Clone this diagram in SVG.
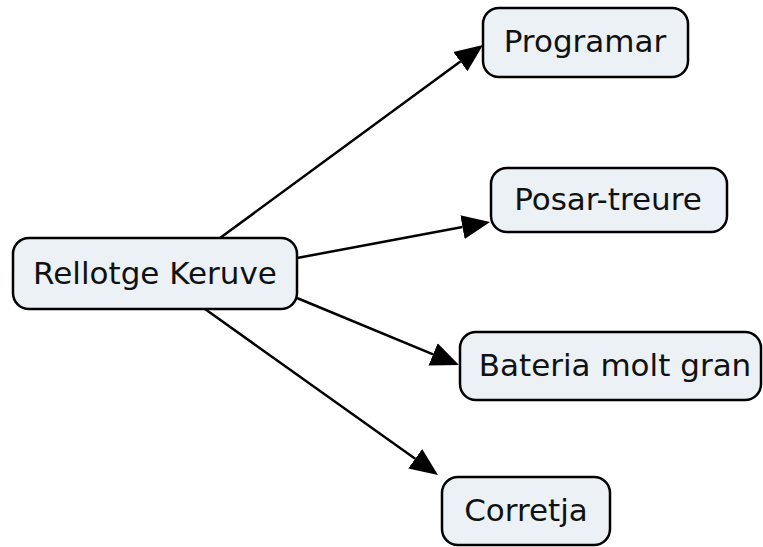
<svg xmlns="http://www.w3.org/2000/svg" width="763" height="547" viewBox="0 0 763 547">
<style>
.box{fill:#ebf1f4;stroke:#000;stroke-width:2.5}
.lbl{font-family:"DejaVu Sans",Verdana,sans-serif;font-size:31px;fill:#111;text-anchor:middle}
.edge{stroke:#000;stroke-width:2.5;fill:none;marker-end:url(#arr)}
</style>
<defs>
<marker id="arr" markerUnits="userSpaceOnUse" markerWidth="29" markerHeight="26" viewBox="0 -13 29 26" refX="0" refY="0" orient="auto">
<path d="M0,-12 L28,0 L0,12 z" fill="#000"/>
</marker>
</defs>
<rect width="763" height="547" fill="#fff"/>
<g id="connectors">
<line class="edge" x1="220" y1="238" x2="460.4" y2="61.6"/>
<line class="edge" x1="297" y1="258" x2="462.5" y2="227.1"/>
<line class="edge" x1="297" y1="298" x2="433.1" y2="354.3"/>
<line class="edge" x1="205" y1="309" x2="415.2" y2="458.8"/>
</g>
<g id="node-rellotge">
<rect class="box" x="13" y="238" width="284" height="71" rx="16"/>
<text class="lbl" x="155" y="284">Rellotge Keruve</text>
</g>
<g id="node-programar">
<rect class="box" x="483" y="8" width="205" height="69" rx="16"/>
<text class="lbl" x="585" y="52">Programar</text>
</g>
<g id="node-posar">
<rect class="box" x="491" y="168" width="236" height="64" rx="16"/>
<text class="lbl" x="608" y="210">Posar-treure</text>
</g>
<g id="node-bateria">
<rect class="box" x="460" y="332" width="301" height="68" rx="16"/>
<text class="lbl" x="615" y="376">Bateria molt gran</text>
</g>
<g id="node-corretja">
<rect class="box" x="442" y="477" width="168" height="68" rx="16"/>
<text class="lbl" x="526" y="521">Corretja</text>
</g>
</svg>
